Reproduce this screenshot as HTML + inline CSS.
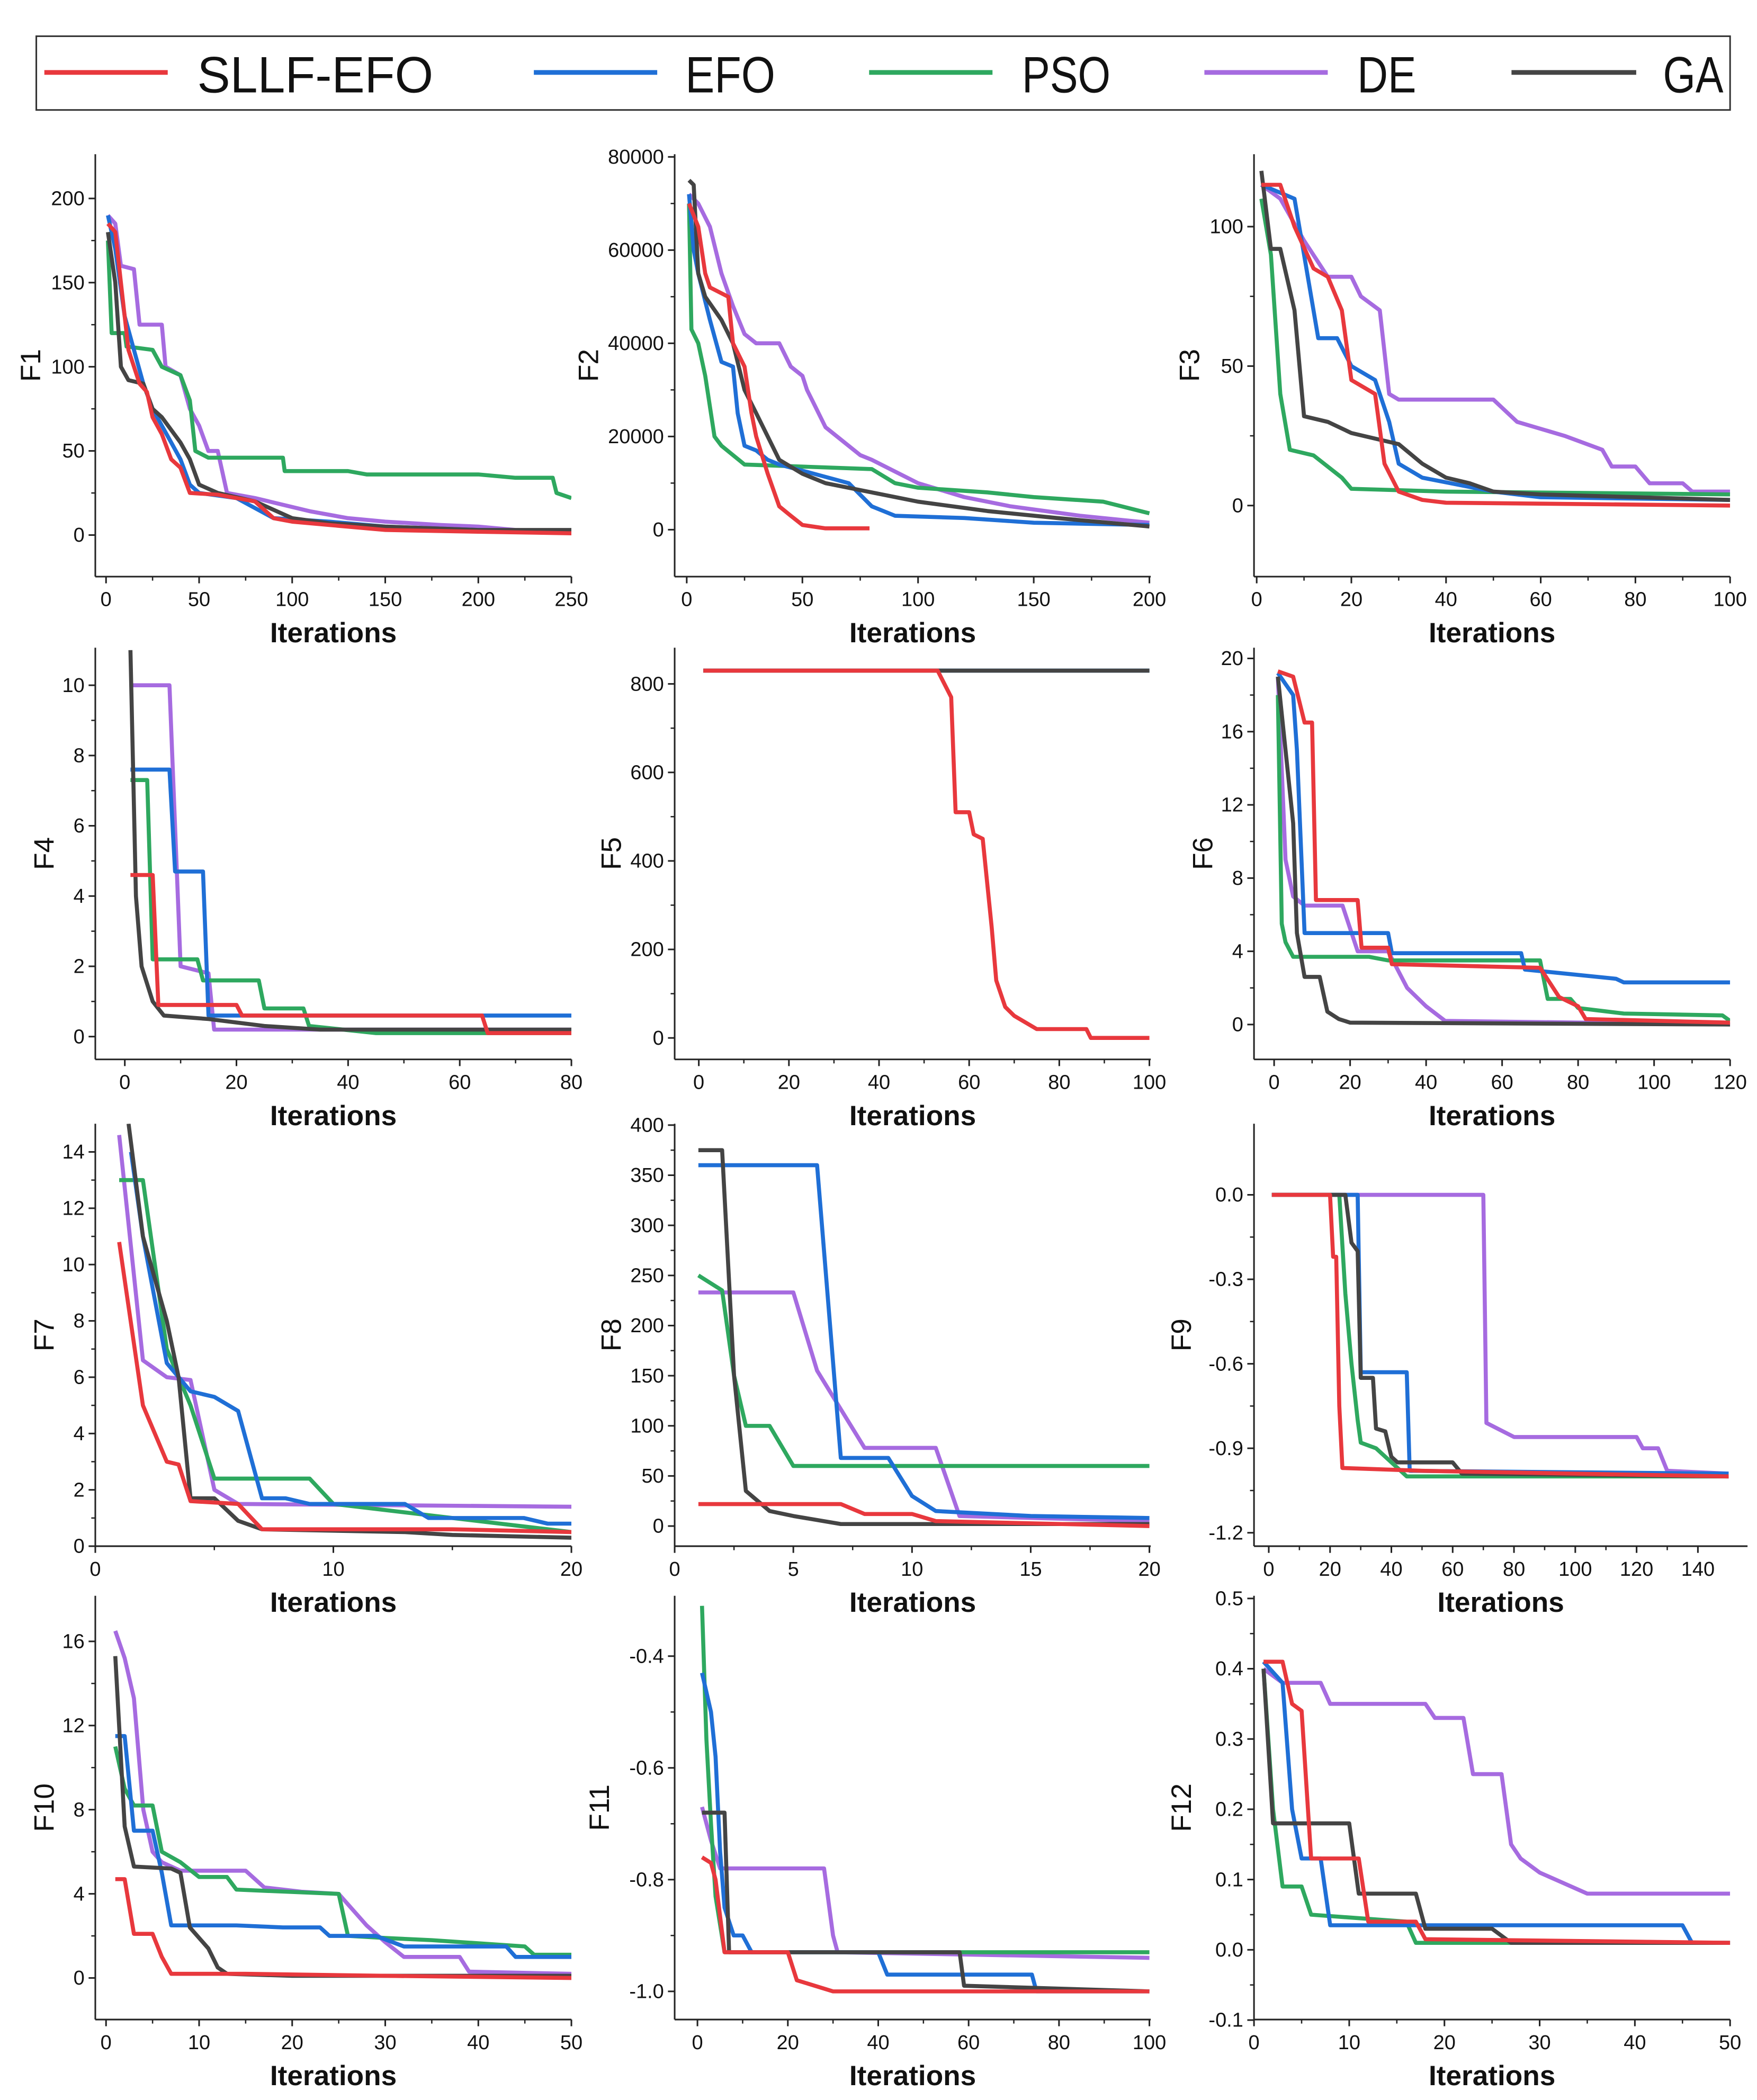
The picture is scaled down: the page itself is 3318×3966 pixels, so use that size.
<!DOCTYPE html>
<html><head><meta charset="utf-8"><style>
html,body{margin:0;padding:0;background:#fff}
svg{display:block}
text{font-family:"Liberation Sans","Noto Sans CJK SC",sans-serif;fill:#111}
</style></head><body>
<svg id="chart" width="3318" height="3966" viewBox="0 0 1310 1566" xmlns="http://www.w3.org/2000/svg">
<g>
<rect x="27" y="27" width="1263" height="55" fill="#fff" stroke="#333" stroke-width="1.2"/>
<g><line x1="33" y1="54" x2="125" y2="54" stroke="#e8383d" stroke-width="3.5"/><text x="147" y="69" font-size="38" textLength="176" lengthAdjust="spacingAndGlyphs" font-family="Liberation Mono,monospace">SLLF-EFO</text></g>
<g><line x1="398" y1="54" x2="490" y2="54" stroke="#1f6fd6" stroke-width="3.5"/><text x="511" y="69" font-size="38" textLength="67" lengthAdjust="spacingAndGlyphs" font-family="Liberation Mono,monospace">EFO</text></g>
<g><line x1="648" y1="54" x2="740" y2="54" stroke="#2ea85f" stroke-width="3.5"/><text x="762" y="69" font-size="38" textLength="66" lengthAdjust="spacingAndGlyphs" font-family="Liberation Mono,monospace">PSO</text></g>
<g><line x1="898" y1="54" x2="990" y2="54" stroke="#a66be0" stroke-width="3.5"/><text x="1012" y="69" font-size="38" textLength="44" lengthAdjust="spacingAndGlyphs" font-family="Liberation Mono,monospace">DE</text></g>
<g><line x1="1127" y1="54" x2="1220" y2="54" stroke="#444" stroke-width="3.5"/><text x="1240" y="69" font-size="38" textLength="45" lengthAdjust="spacingAndGlyphs" font-family="Liberation Mono,monospace">GA</text></g>
</g>
</svg>
<script>
const seriesNames=["DE","PSO","EFO","GA","SLLF-EFO"];
const seriesColors={"SLLF-EFO":"#e8383d","EFO":"#1f6fd6","PSO":"#2ea85f","DE":"#a66be0","GA":"#444444"};
const F1={"SLLF-EFO":[[1,185],[5,180],[8,150],[12,110],[18,90],[22,85],[25,70],[30,60],[35,45],[40,40],[45,25],[60,24],[70,22],[80,20],[90,10],[100,8],[120,6],[150,3],[200,2],[250,1]],
"EFO":[[1,190],[5,170],[10,130],[15,110],[20,90],[25,75],[30,65],[35,55],[40,45],[45,30],[50,25],[70,22],[90,10],[120,8],[150,5],[200,3],[250,2]],
"PSO":[[1,175],[3,120],[10,120],[11,112],[25,110],[30,100],[40,95],[45,80],[48,50],[55,46],[95,46],[96,38],[130,38],[140,36],[200,36],[220,34],[240,34],[242,25],[250,22]],
"DE":[[1,190],[5,185],[8,160],[15,158],[18,125],[30,125],[32,100],[40,95],[45,75],[50,65],[55,50],[60,50],[65,25],[80,22],[95,18],[110,14],[130,10],[150,8],[180,6],[200,5],[220,3],[250,2]],
"GA":[[1,180],[5,150],[8,100],[12,92],[20,90],[25,75],[30,70],[40,55],[45,45],[50,30],[60,25],[80,20],[100,10],[120,7],[150,5],[200,3],[250,3]]};
const F2={"SLLF-EFO":[[1,70000],[5,65000],[8,55000],[10,52000],[18,50000],[20,40000],[25,35000],[28,25000],[30,20000],[35,12000],[40,5000],[45,3000],[50,1000],[60,300],[79,300]],
"EFO":[[1,72000],[3,60000],[5,55000],[10,45000],[15,36000],[20,35000],[22,25000],[25,18000],[30,17000],[35,15000],[40,14000],[55,12000],[70,10000],[80,5000],[90,3000],[120,2500],[150,1500],[200,1000]],
"PSO":[[1,70000],[2,43000],[5,40000],[8,33000],[12,20000],[15,18000],[20,16000],[25,14000],[80,13000],[90,10000],[100,9000],[130,8000],[150,7000],[180,6000],[200,3500]],
"DE":[[1,72000],[5,70000],[10,65000],[15,55000],[20,48000],[25,42000],[30,40000],[40,40000],[45,35000],[50,33000],[52,30000],[55,27000],[60,22000],[65,20000],[75,16000],[80,15000],[100,10000],[120,7000],[140,5000],[170,3000],[200,1500]],
"GA":[[1,75000],[3,74000],[5,55000],[8,50000],[15,45000],[20,40000],[25,30000],[30,25000],[35,20000],[40,15000],[50,12000],[60,10000],[80,8000],[100,6000],[130,4000],[160,2500],[200,700]]};
const F3={"SLLF-EFO":[[1,115],[5,115],[8,100],[12,85],[15,82],[18,70],[20,45],[25,40],[27,15],[30,5],[35,2],[40,1],[100,0]],
"EFO":[[1,115],[8,110],[10,90],[13,60],[17,60],[20,50],[25,45],[28,30],[30,15],[35,10],[50,5],[60,3],[100,2]],
"PSO":[[1,110],[3,90],[5,40],[7,20],[12,18],[18,10],[20,6],[40,5],[100,4]],
"DE":[[1,115],[5,110],[10,95],[15,82],[20,82],[22,75],[26,70],[28,40],[30,38],[50,38],[55,30],[65,25],[73,20],[75,14],[80,14],[83,8],[90,8],[92,5],[100,5]],
"GA":[[1,120],[3,92],[5,92],[8,70],[10,32],[15,30],[20,26],[30,22],[35,15],[40,10],[45,8],[50,5],[60,4],[100,2]]};
const F4={"SLLF-EFO":[[1,4.6],[5,4.6],[6,0.9],[20,0.9],[21,0.6],[64,0.6],[65,0.1],[80,0.1]],
"EFO":[[1,7.6],[8,7.6],[9,4.7],[14,4.7],[15,0.6],[80,0.6]],
"PSO":[[1,7.3],[4,7.3],[5,2.2],[13,2.2],[14,1.6],[24,1.6],[25,0.8],[32,0.8],[33,0.3],[45,0.1],[80,0.1]],
"DE":[[1,10],[8,10],[10,2],[15,1.8],[16,0.2],[80,0.2]],
"GA":[[1,11],[2,4],[3,2],[5,1],[7,0.6],[15,0.5],[25,0.3],[35,0.2],[80,0.2]]};
const F5={"SLLF-EFO":[[1,830],[53,830],[56,770],[57,510],[60,510],[61,460],[63,450],[65,250],[66,130],[68,70],[70,50],[75,20],[86,20],[87,0],[100,0]],
"EFO":[[1,830],[100,830]],"PSO":[[1,830],[100,830]],"DE":[[1,830],[100,830]],"GA":[[1,830],[100,830]]};
const F6={"SLLF-EFO":[[1,19.3],[5,19],[8,16.5],[10,16.5],[11,6.8],[22,6.8],[23,4.2],[30,4.2],[31,3.3],[70,3.1],[75,1.5],[80,1],[82,0.3],[120,0.1]],
"EFO":[[1,19.2],[5,18],[6,15],[8,5],[30,5],[31,3.9],[65,3.9],[66,3],[90,2.5],[92,2.3],[120,2.3]],
"PSO":[[1,18],[2,5.5],[3,4.5],[5,3.7],[25,3.7],[30,3.5],[70,3.5],[72,1.4],[78,1.4],[80,0.9],[92,0.6],[118,0.5],[120,0.2]],
"DE":[[1,19],[3,9],[5,7],[8,6.5],[18,6.5],[22,4],[30,4],[35,2],[40,1],[45,0.2],[120,0]],
"GA":[[1,19],[3,15],[5,11],[6,5],[8,2.6],[12,2.6],[14,0.7],[17,0.3],[20,0.1],[120,0]]};
const F7={"SLLF-EFO":[[1,10.8],[2,5],[3,3],[3.5,2.9],[4,1.6],[6,1.5],[7,0.6],[15,0.6],[20,0.5]],
"EFO":[[1.5,14],[2,11],[3,6.5],[4,5.5],[5,5.3],[6,4.8],[7,1.7],[8,1.7],[9,1.5],[13,1.5],[14,1],[18,1],[19,0.8],[20,0.8]],
"PSO":[[1,13],[2,13],[3,7],[4,5],[5,2.4],[9,2.4],[10,1.5],[20,0.5]],
"DE":[[1,14.6],[2,6.6],[3,6],[4,5.9],[5,2],[6,1.5],[20,1.4]],
"GA":[[1.4,15],[2,11],[3,8],[3.5,6],[4,1.7],[5,1.7],[6,0.9],[7,0.6],[13,0.5],[15,0.4],[20,0.3]]};
const F8={"SLLF-EFO":[[1,22],[7,22],[8,12],[10,12],[11,5],[20,0]],
"EFO":[[1,360],[6,360],[7,68],[9,68],[10,30],[11,15],[15,10],[20,8]],
"PSO":[[1,250],[2,235],[2.5,150],[3,100],[4,100],[5,60],[20,60]],
"DE":[[1,233],[5,233],[6,155],[8,78],[11,78],[12,10],[20,5]],
"GA":[[1,375],[2,375],[2.5,150],[3,35],[4,15],[5,10],[7,2],[20,2]]};
const F9={"SLLF-EFO":[[1,0],[20,0],[21,-0.22],[22,-0.22],[23,-0.75],[24,-0.97],[50,-0.98],[150,-1.0]],
"EFO":[[1,0],[29,0],[30,-0.63],[45,-0.63],[46,-0.98],[150,-0.99]],
"PSO":[[1,0],[23,0],[25,-0.35],[27,-0.6],[29,-0.8],[30,-0.88],[35,-0.9],[45,-1.0],[150,-1.0]],
"DE":[[1,0],[70,0],[71,-0.81],[80,-0.86],[120,-0.86],[122,-0.9],[127,-0.9],[130,-0.98],[150,-0.99]],
"GA":[[1,0],[25,0],[27,-0.17],[29,-0.2],[30,-0.65],[34,-0.65],[35,-0.83],[38,-0.84],[40,-0.93],[42,-0.95],[60,-0.95],[63,-0.99],[150,-1.0]]};
const F10={"SLLF-EFO":[[1,4.7],[2,4.7],[3,2.1],[5,2.1],[6,1],[7,0.2],[15,0.2],[30,0.1],[50,0]],
"EFO":[[1,11.5],[2,11.5],[3,7],[5,7],[6,5],[7,2.5],[14,2.5],[19,2.4],[23,2.4],[24,2],[29,2],[32,1.5],[43,1.5],[44,1],[50,1]],
"PSO":[[1,11],[2,9],[3,8.2],[5,8.2],[6,6],[8,5.5],[10,4.8],[13,4.8],[14,4.2],[25,4],[26,2],[30,1.9],[35,1.8],[45,1.5],[46,1.1],[50,1.1]],
"DE":[[1,16.5],[2,15.2],[3,13.3],[4,8],[5,6],[6,5.5],[8,5.1],[15,5.1],[17,4.3],[21,4.1],[25,4],[28,2.5],[30,1.7],[32,1],[38,1],[39,0.3],[50,0.2]],
"GA":[[1,15.3],[2,7.2],[3,5.3],[7,5.2],[8,5],[9,2.4],[11,1.4],[12,0.5],[13,0.2],[20,0.1],[50,0.1]]};
const F11={"SLLF-EFO":[[1,-0.76],[3,-0.77],[4,-0.8],[6,-0.93],[20,-0.93],[22,-0.98],[30,-1.0],[100,-1.0]],
"EFO":[[1,-0.43],[3,-0.5],[4,-0.58],[5,-0.75],[6,-0.85],[8,-0.9],[10,-0.9],[12,-0.93],[40,-0.93],[42,-0.97],[74,-0.97],[75,-1.0],[100,-1.0]],
"PSO":[[1,-0.31],[2,-0.55],[3,-0.7],[4,-0.83],[6,-0.93],[100,-0.93]],
"DE":[[1,-0.67],[3,-0.73],[5,-0.78],[28,-0.78],[30,-0.9],[31,-0.93],[100,-0.94]],
"GA":[[1,-0.68],[6,-0.68],[7,-0.93],[58,-0.93],[59,-0.99],[100,-1.0]]};
const F12={"SLLF-EFO":[[1,0.41],[3,0.41],[4,0.35],[5,0.34],[6,0.13],[11,0.13],[12,0.04],[17,0.04],[18,0.015],[50,0.01]],
"EFO":[[1,0.41],[3,0.38],[4,0.2],[5,0.13],[7,0.13],[8,0.035],[45,0.035],[46,0.01],[50,0.01]],
"PSO":[[1,0.4],[2,0.2],[3,0.09],[5,0.09],[6,0.05],[16,0.04],[17,0.01],[50,0.01]],
"DE":[[1,0.4],[3,0.38],[7,0.38],[8,0.35],[18,0.35],[19,0.33],[22,0.33],[23,0.25],[26,0.25],[27,0.15],[28,0.13],[30,0.11],[35,0.08],[50,0.08]],
"GA":[[1,0.4],[2,0.18],[10,0.18],[11,0.08],[17,0.08],[18,0.03],[25,0.03],[27,0.01],[50,0.01]]};
const xTicks=[[0,50,100,150,200,250],[0,50,100,150,200],[0,20,40,60,80,100],[0,20,40,60,80],[0,20,40,60,80,100],[0,20,40,60,80,100,120],[0,10,20],[0,5,10,15,20],[0,20,40,60,80,100,120,140],[0,10,20,30,40,50],[0,20,40,60,80,100],[0,10,20,30,40,50]];
const yTicks=[[0,50,100,150,200],[0,20000,40000,60000,80000],[0,50,100],[0,2,4,6,8,10],[0,200,400,600,800],[0,4,8,12,16,20],[0,2,4,6,8,10,12,14],[0,50,100,150,200,250,300,350,400],[0,-0.3,-0.6,-0.9,-1.2],[0,4,8,12,16],[-0.4,-0.6,-0.8,-1.0],[-0.1,0,0.1,0.2,0.3,0.4,0.5]];
const yTickLabels=[null,null,null,null,null,null,null,null,["0.0","-0.3","-0.6","-0.9","-1.2"],null,["-0.4","-0.6","-0.8","-1.0"],["-0.1","0.0","0.1","0.2","0.3","0.4","0.5"]];
const panelData=[F1,F2,F3,F4,F5,F6,F7,F8,F9,F10,F11,F12];
const L=[
{bx:[71,426],by:[115,430],x:[0,79,250,426],y:[0,399,200,148],lab:22},
{bx:[503,858],by:[115,430],x:[0,512,200,857],y:[0,395,80000,117],lab:438},
{bx:[935,1290],by:[115,430],x:[0,937,100,1290],y:[0,377,100,169],lab:886},
{bx:[71,426],by:[483,790],x:[0,93,80,426],y:[0,773,10,511],lab:32},
{bx:[503,858],by:[483,790],x:[0,521,100,857],y:[0,774,800,510],lab:455},
{bx:[935,1290],by:[483,790],x:[0,950,120,1290],y:[0,764,20,491],lab:896},
{bx:[71,426],by:[838,1153],x:[0,71,20,426],y:[0,1153,14,859],lab:32},
{bx:[503,858],by:[838,1153],x:[0,503,20,857],y:[0,1138,400,839],lab:455},
{bx:[935,1303],by:[838,1153],x:[0,946,140,1266],y:[0,891,-1.2,1143],lab:880},
{bx:[71,426],by:[1190,1506],x:[0,79,50,426],y:[0,1475,16,1224],lab:32},
{bx:[503,858],by:[1190,1506],x:[0,520,100,857],y:[-0.4,1235,-1.0,1485],lab:446},
{bx:[935,1290],by:[1190,1506],x:[0,935,50,1290],y:[0,1454,0.5,1192],lab:880}];
const NS="http://www.w3.org/2000/svg";
const svg=document.getElementById('chart');
function mk(tag,attrs,parent){const e=document.createElementNS(NS,tag);for(const k in attrs)e.setAttribute(k,attrs[k]);parent.appendChild(e);return e;}
panelData.forEach((D,i)=>{
 const c=L[i];
 const sx=v=>c.x[1]+(v-c.x[0])*(c.x[3]-c.x[1])/(c.x[2]-c.x[0]);
 const sy=v=>c.y[1]+(v-c.y[0])*(c.y[3]-c.y[1])/(c.y[2]-c.y[0]);
 const g=mk('g',{},svg);
 
 
 const clipId='clip'+i;
 const cp=mk('clipPath',{id:clipId},g);
 mk('rect',{x:c.bx[0],y:c.by[0],width:c.bx[1]-c.bx[0],height:c.by[1]-c.by[0]},cp);
 const lines=mk('g',{'clip-path':'url(#'+clipId+')'},g);
 seriesNames.forEach(n=>{
  const pts=D[n].map(p=>sx(p[0]).toFixed(1)+','+sy(p[1]).toFixed(1)).join(' ');
  const pl=mk('polyline',{points:pts,fill:'none',stroke:seriesColors[n],'stroke-width':3,'stroke-linejoin':'round'},lines);
  
  
 });
 const ax=mk('g',{},g);
 
 
 mk('line',{x1:c.bx[0],y1:c.by[0],x2:c.bx[0],y2:c.by[1],stroke:'#222','stroke-width':1.2},ax);
 mk('line',{x1:c.bx[0],y1:c.by[1],x2:c.bx[1],y2:c.by[1],stroke:'#222','stroke-width':1.2},ax);
 const xt=xTicks[i];
 xt.forEach((v,k)=>{
  const X=sx(v);
  mk('line',{x1:X,y1:c.by[1],x2:X,y2:c.by[1]+5,stroke:'#222','stroke-width':1.2},ax);
  const t=mk('text',{x:X,y:c.by[1]+22,'font-size':15,'text-anchor':'middle'},ax);t.textContent=v;
  if(k<xt.length-1){const m=sx((v+xt[k+1])/2);mk('line',{x1:m,y1:c.by[1],x2:m,y2:c.by[1]+3,stroke:'#222','stroke-width':1},ax);}
 });
 const yt=yTicks[i];
 yt.forEach((v,k)=>{
  const Y=sy(v);
  mk('line',{x1:c.bx[0]-5,y1:Y,x2:c.bx[0],y2:Y,stroke:'#222','stroke-width':1.2},ax);
  const t=mk('text',{x:c.bx[0]-8,y:Y+5,'font-size':15,'text-anchor':'end'},ax);
  t.textContent=yTickLabels[i]?yTickLabels[i][k]:v;
  if(k<yt.length-1){const m=sy((v+yt[k+1])/2);mk('line',{x1:c.bx[0]-3,y1:m,x2:c.bx[0],y2:m,stroke:'#222','stroke-width':1},ax);}
 });
 const xl=mk('text',{x:(c.bx[0]+c.bx[1])/2,y:c.by[1]+49,'font-size':21,'text-anchor':'middle','font-weight':'bold','font-family':'Liberation Mono,monospace'},g);
 xl.textContent='Iterations';
 
 
 const cy=(c.by[0]+c.by[1])/2;
 const yl=mk('text',{x:c.lab+8,y:cy,'font-size':21,'text-anchor':'middle','font-family':'Liberation Mono,monospace',transform:'rotate(-90 '+(c.lab+8)+' '+cy+')'},g);
 yl.textContent='F'+(i+1);
 
 
});
</script>
</body></html>
